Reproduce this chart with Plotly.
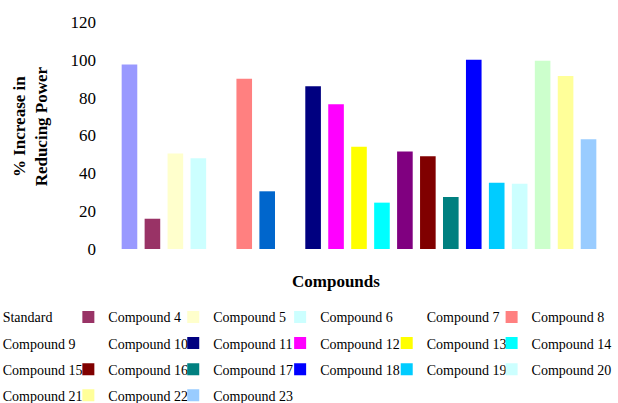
import plotly.graph_objects as go

compounds = ["Standard", "Compound 4", "Compound 5", "Compound 6", "Compound 7",
             "Compound 8", "Compound 9", "Compound 10", "Compound 11", "Compound 12",
             "Compound 13", "Compound 14", "Compound 15", "Compound 16", "Compound 17",
             "Compound 18", "Compound 19", "Compound 20", "Compound 21", "Compound 22",
             "Compound 23"]
increase = [97.5, 16, 50.5, 48, 0, 90, 30.5, 0, 86, 76.5, 54, 24.5, 51.5, 49, 27.5,
            100, 35, 34.5, 99.5, 91.5, 58]
colors = ["#9999FF", "#993366", "#FFFFCC", "#CCFFFF", "#FFFFFF", "#FF8080", "#0066CC",
          "#FFFFFF", "#000080", "#FF00FF", "#FFFF00", "#00FFFF", "#800080", "#800000",
          "#008080", "#0000FF", "#00CCFF", "#CCFFFF", "#CCFFCC", "#FFFF99", "#99CCFF"]
y_ticks = [0, 20, 40, 60, 80, 100, 120]

FONT = "Liberation Serif, Times New Roman, serif"
W, H = 618, 403
ML, MR, MT, MB = 118, 17.5, 21.5, 154
PW = W - ML - MR
PH = H - MT - MB

N_COLS = 6
col_text_x = [2.5, 108.3, 213.3, 320.3, 427, 532]  # legend text left edges (px)
legend_top_px = 301.5

fig = go.Figure()
for i, (name, val, col) in enumerate(zip(compounds, increase, colors)):
    leg = "legend" if i % N_COLS == 0 else f"legend{i % N_COLS + 1}"
    fig.add_trace(go.Bar(x=[name], y=[val], name=name, marker_color=col,
                         marker_line_width=0, width=0.68, legend=leg,
                         legendgroup=name))

legend_common = dict(orientation="v", xanchor="left", yanchor="top",
                     y=(MT + PH - legend_top_px) / PH,
                     font=dict(family=FONT, size=14, color="black"),
                     tracegroupgap=4.9, bgcolor="rgba(0,0,0,0)", borderwidth=0)
legends = {}
for c in range(N_COLS):
    key = "legend" if c == 0 else f"legend{c + 1}"
    legends[key] = dict(legend_common, x=(col_text_x[c] - 40 - ML) / PW)

fig.update_layout(
    width=W, height=H,
    margin=dict(l=ML, r=MR, t=MT, b=MB, autoexpand=False),
    paper_bgcolor="white", plot_bgcolor="white",
    barmode="overlay",
    font=dict(family=FONT, color="black", size=17),
    showlegend=True,
    xaxis=dict(categoryorder="array", categoryarray=compounds, showticklabels=False,
               showline=False, showgrid=False, zeroline=False, ticks=""),
    yaxis=dict(range=[0, 120], tickvals=y_ticks, showgrid=False, showline=False,
               zeroline=False, ticks="", ticklabelstandoff=21,
               tickfont=dict(family=FONT, size=17)),
    annotations=[
        dict(text="<b>Compounds</b>", x=(336.7 - ML) / PW, xref="paper",
             y=(MT + PH - 281.5) / PH, yref="paper", showarrow=False,
             xanchor="center", yanchor="middle", font=dict(family=FONT, size=17)),
        dict(text="<b>% Increase in<br>Reducing Power</b>", x=(30 - ML) / PW,
             xref="paper", y=(MT + PH - 126) / PH, yref="paper", showarrow=False,
             textangle=-90, xanchor="center", yanchor="middle",
             font=dict(family=FONT, size=17)),
    ],
    **legends,
)

fig.write_html("out.html", config={"displayModeBar": False},
               post_script="document.body.style.margin='0';")
